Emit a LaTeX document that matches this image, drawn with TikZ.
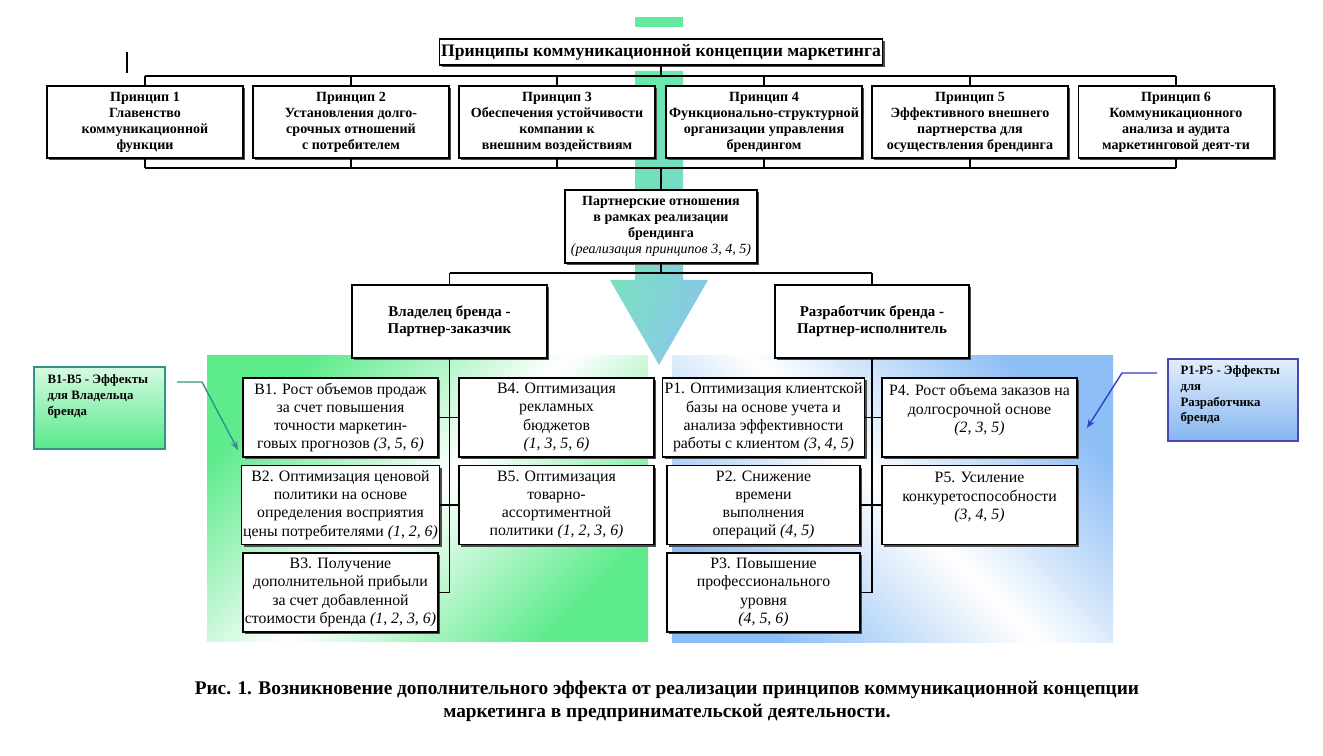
\documentclass[tikz,border=0pt]{standalone}
\usepackage{fontspec}
\setmainfont{Liberation Serif}
\usetikzlibrary{shadows,arrows.meta,calc,shadings}
\definecolor{mint}{HTML}{62EBA0}
\definecolor{mintB}{HTML}{70E6B8}
\definecolor{tealL}{HTML}{84DCCC}
\definecolor{gA}{HTML}{5EEB8C}
\definecolor{bA}{HTML}{8DBEF5}
\definecolor{tealc}{HTML}{2E9486}
\definecolor{lgTop}{HTML}{D6FAE2}
\definecolor{lgBot}{HTML}{58E98A}
\definecolor{lbBorder}{HTML}{4848B0}
\definecolor{lbTop}{HTML}{E2EEFC}
\definecolor{lbBot}{HTML}{86B6F0}
\definecolor{arrB}{HTML}{3040C8}
\begin{document}
\begin{tikzpicture}[x=0.02cm,y=-0.02cm,line width=0.6pt,
  box/.style={draw=black, line width=0.6pt, fill=white,
    drop shadow={shadow xshift=1.3pt, shadow yshift=-1.3pt, fill=black!70, opacity=1},
    align=center, inner sep=1pt},
  pbox/.style={box, minimum width=3.92cm, minimum height=1.44cm, font=\fontsize{8}{9.1}\selectfont\bfseries},
  mbox/.style={box, minimum height=1.46cm, font=\fontsize{8}{9.1}\selectfont\bfseries},
  ebox/.style={box, minimum width=3.9cm, minimum height=1.58cm, font=\fontsize{9}{10.4}\selectfont},
  lbltext/.style={anchor=north west, align=left, inner sep=0pt, font=\fontsize{7.3}{9}\selectfont\bfseries}
]
\useasboundingbox (0,0) rectangle (1323,756);
\fill[white] (0,0) rectangle (1323,756);

% gradient areas
\shade[top color=gA, bottom color=gA, middle color=white, shading angle=45] (207,356) rectangle (648,642);
\shade[top color=bA, bottom color=bA, middle color=white, shading angle=-45] (672,356) rectangle (1113,643);

% big arrow
\fill[mint] (635,17) rectangle (683,27);
\shade[upper left=mint, upper right=mintB, lower left=tealL, lower right=bA]
  (635,71) -- (683,71) -- (683,280) -- (708,280) -- (659,365) -- (610,280) -- (635,280) -- cycle;

% stray mark
\coordinate (m1) at (127,52);
\coordinate (m2) at (127,73);
\draw[line width=0.9pt] (m1) -- (m2);

% title
\node[box, minimum width=8.1cm, minimum height=0.52cm, font=\fontsize{10}{12}\selectfont\bfseries] (title) at (661,52) {Принципы коммуникационной концепции маркетинга};

% principles
\node[pbox] (p1) at (145,122) {Принцип 1\\Главенство\\коммуникационной\\функции};
\node[pbox] (p2) at (351,122) {Принцип 2\\Установления долго-\\срочных отношений\\с потребителем};
\node[pbox] (p3) at (557,122) {Принцип 3\\Обеспечения устойчивости\\компании к\\внешним воздействиям};
\node[pbox] (p4) at (764,122) {Принцип 4\\Функционально-структурной\\организации управления\\брендингом};
\node[pbox] (p5) at (970,122) {Принцип 5\\Эффективного внешнего\\партнерства для\\осуществления брендинга};
\node[pbox] (p6) at (1176,122) {Принцип 6\\Коммуникационного\\анализа и аудита\\маркетинговой деят-ти};

\coordinate (tb) at (0,76);
\coordinate (bb) at (0,168);
\draw (title.south) -- (title.south |- tb);
\draw (p1.north |- tb) -- (p6.north |- tb);
\draw (p1.south |- bb) -- (p6.south |- bb);
\foreach \i in {1,...,6} {
  \draw (p\i.north) -- (p\i.north |- tb);
  \draw (p\i.south) -- (p\i.south |- bb);
}

% partnership
\node[mbox, minimum width=3.84cm] (partner) at (661,226.5) {Партнерские отношения\\в рамках реализации\\брендинга\\{\mdseries\itshape (реализация принципов 3, 4, 5)}};
\draw (partner.north) -- (partner.north |- bb);

\node[mbox, minimum width=3.9cm, font=\fontsize{8.5}{9.8}\selectfont\bfseries] (owner) at (449.5,321.5) {Владелец бренда -\\Партнер-заказчик};
\node[mbox, minimum width=3.88cm, font=\fontsize{8.5}{9.8}\selectfont\bfseries] (dev) at (872,321.5) {Разработчик бренда -\\Партнер-исполнитель};
\coordinate (mb) at (0,273);
\draw (partner.south) -- (partner.south |- mb);
\draw (owner.north |- mb) -- (dev.north |- mb);
\draw (owner.north) -- (owner.north |- mb);
\draw (dev.north) -- (dev.north |- mb);

% owner effects
\node[ebox] (b1) at (340.5,417.5) {В1. Рост объемов продаж\\за счет повышения\\точности маркетин-\\говых прогнозов \textit{(3, 5, 6)}};
\node[ebox] (b2) at (340.5,505) {В2. Оптимизация ценовой\\политики на основе\\определения восприятия\\цены потребителями \textit{(1, 2, 6)}};
\node[ebox] (b3) at (340.5,592.5) {В3. Получение\\дополнительной прибыли\\за счет добавленной\\стоимости бренда \textit{(1, 2, 3, 6)}};
\node[ebox] (b4) at (556.5,417.5) {В4. Оптимизация\\рекламных\\бюджетов\\\textit{(1, 3, 5, 6)}};
\node[ebox] (b5) at (556.5,505) {В5. Оптимизация\\товарно-\\ассортиментной\\политики \textit{(1, 2, 3, 6)}};
\draw (owner.south) -- (owner.south |- b3.east) -- (b3.east);
\draw (b1.east) -- (b4.west);
\draw (b2.east) -- (b5.west);

% developer effects
\node[ebox, minimum width=3.86cm] (r1) at (763.5,417.5) {Р1. Оптимизация клиентской\\базы на основе учета и\\анализа эффективности\\работы с клиентом \textit{(3, 4, 5)}};
\node[ebox, minimum width=3.86cm] (r2) at (763.5,505) {Р2. Снижение\\времени\\выполнения\\операций \textit{(4, 5)}};
\node[ebox, minimum width=3.86cm] (r3) at (763.5,592.5) {Р3. Повышение\\профессионального\\уровня\\\textit{(4, 5, 6)}};
\node[ebox] (r4) at (979.5,417.5) {Р4. Рост объема заказов на\\долгосрочной основе\\\textit{(2, 3, 5)}\\~};
\node[ebox] (r5) at (979.5,505) {Р5. Усиление\\конкуретоспособности\\\textit{(3, 4, 5)}\\~};
\draw (dev.south) -- (dev.south |- r3.east) -- (r3.east);
\draw (r1.east) -- (r4.west);
\draw (r2.east) -- (r5.west);

% side labels
\node[draw=tealc, line width=0.8pt, top color=lgTop, bottom color=lgBot, minimum width=2.62cm, minimum height=1.64cm, inner sep=0pt] (lblB) at (99.5,408) {};
\node[lbltext] (lblBt) at (47,374) {В1-В5 - Эффекты\\для Владельца\\бренда};
\coordinate (la1) at (177,382);
\coordinate (la2) at (202,382);
\coordinate (la3) at (238,450);
\draw[tealc, line width=0.8pt, -{Stealth[length=5pt,width=4pt]}] (la1) -- (la2) -- (la3);

\node[draw=lbBorder, line width=0.8pt, top color=lbTop, bottom color=lbBot, minimum width=2.6cm, minimum height=1.64cm, inner sep=0pt] (lblP) at (1233,400) {};
\node[lbltext] (lblPt) at (1180,365) {Р1-Р5 - Эффекты\\для\\Разработчика\\бренда};
\coordinate (ra1) at (1157,373);
\coordinate (ra2) at (1122,373);
\coordinate (ra3) at (1087,428);
\draw[arrB, line width=0.8pt, -{Stealth[length=5pt,width=4pt]}] (ra1) -- (ra2) -- (ra3);

% caption
\node[font=\fontsize{11}{13}\selectfont\bfseries, align=center] (cap) at (667,701) {Рис. 1. Возникновение дополнительного эффекта от реализации принципов коммуникационной концепции\\маркетинга в предпринимательской деятельности.};
\end{tikzpicture}
\end{document}
